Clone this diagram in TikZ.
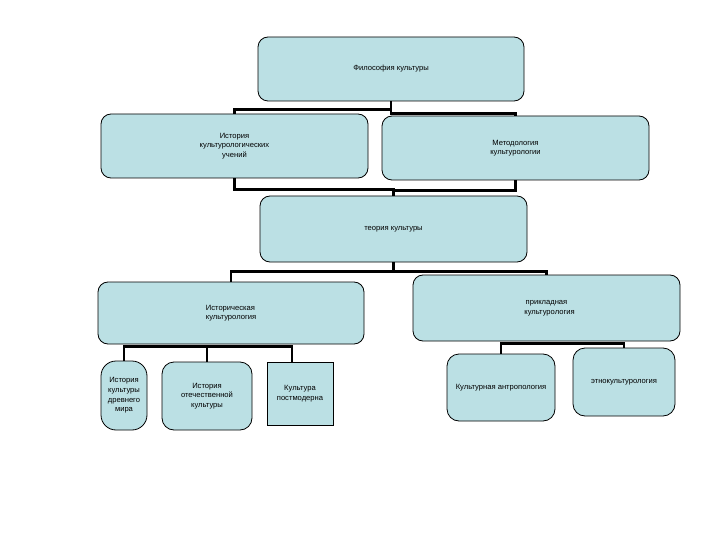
\documentclass[tikz,border=0pt]{standalone}
\usepackage{fontspec}
\setmainfont{Liberation Sans}
\usetikzlibrary{calc}
\definecolor{boxfill}{RGB}{187,224,228}
\tikzset{
  box/.style={draw=black, line width=0.8pt, fill=boxfill, rounded corners=10pt,
    inner sep=0pt, align=center, font=\fontsize{7.6}{9.6}\selectfont},
  sqbox/.style={box, rounded corners=0pt},
  conn/.style={draw=black, line width=2.5pt},
}
\newcommand{\mkbox}[7]{% name, x1,y1,x2,y2, style, text
  \node[#6, minimum width={(#4-#2)*1pt}, minimum height={(#5-#3)*1pt}]
    (#1) at ({(#2+#4)/2},{(#3+#5)/2}) {#7};}
\begin{document}
\begin{tikzpicture}[x=1pt,y=-1pt]
\useasboundingbox (0,0) rectangle (720,540);
\fill[white] (0,0) rectangle (720,540);
% boxes
\mkbox{fil}{258}{37}{524}{101}{box}{Философия культуры}
\mkbox{hist}{101}{114}{368}{178}{box}{История\\культурологических\\учений}
\mkbox{meth}{382}{116}{649}{180}{box}{Методология\\культурологии}
\mkbox{theory}{260}{196}{527}{262}{box}{теория культуры}
\mkbox{histc}{98}{282}{364}{344}{box}{\begin{tabular}{@{}l@{}}Историческая\\культурология\end{tabular}}
\mkbox{appl}{413}{275}{680}{341}{box}{прикладная\\\hspace*{6pt}культурология}
\mkbox{anc}{101}{361}{147}{430}{box, rounded corners=15pt}{История\\культуры\\древнего\\мира}
\mkbox{nat}{162}{362}{252}{430}{box, rounded corners=12pt}{История\\отечественной\\культуры}
\mkbox{post}{267}{362}{333}{425}{sqbox}{Культура\\постмодерна}
\mkbox{anth}{447}{354}{555}{421}{box, rounded corners=12pt}{Культурная антропология}
\mkbox{ethno}{573}{348}{675}{416}{box, rounded corners=12pt}{этнокультурология}
% connectors
\draw[conn] (fil.south) -- ++(0,8) -| (hist.north);
\draw[conn] (fil.south) -- ++(0,12) -| (meth.north);
\draw[conn] (hist.south) -- ++(0,11) -| (theory.north);
\draw[conn] (meth.south) -- ++(0,10) -| (theory.north);
\draw[conn] (theory.south) -- ++(0,9) -| (histc.north);
\draw[conn] (theory.south) -- ++(0,9) -| (appl.north);
\coordinate (hb) at ($(histc.south)+(0,2)$);
\draw[conn] (anc.north) -- (anc.north |- hb) -- ([xshift=-8pt]post.north |- hb) -- ([xshift=-8pt]post.north);
\draw[conn] (nat.north) -- (nat.north |- hb);
\coordinate (ab) at ($(appl.south)+(0,2)$);
\draw[conn] (anth.north) -- (anth.north |- ab) -- (ethno.north |- ab) -- (ethno.north);
\end{tikzpicture}
\end{document}
